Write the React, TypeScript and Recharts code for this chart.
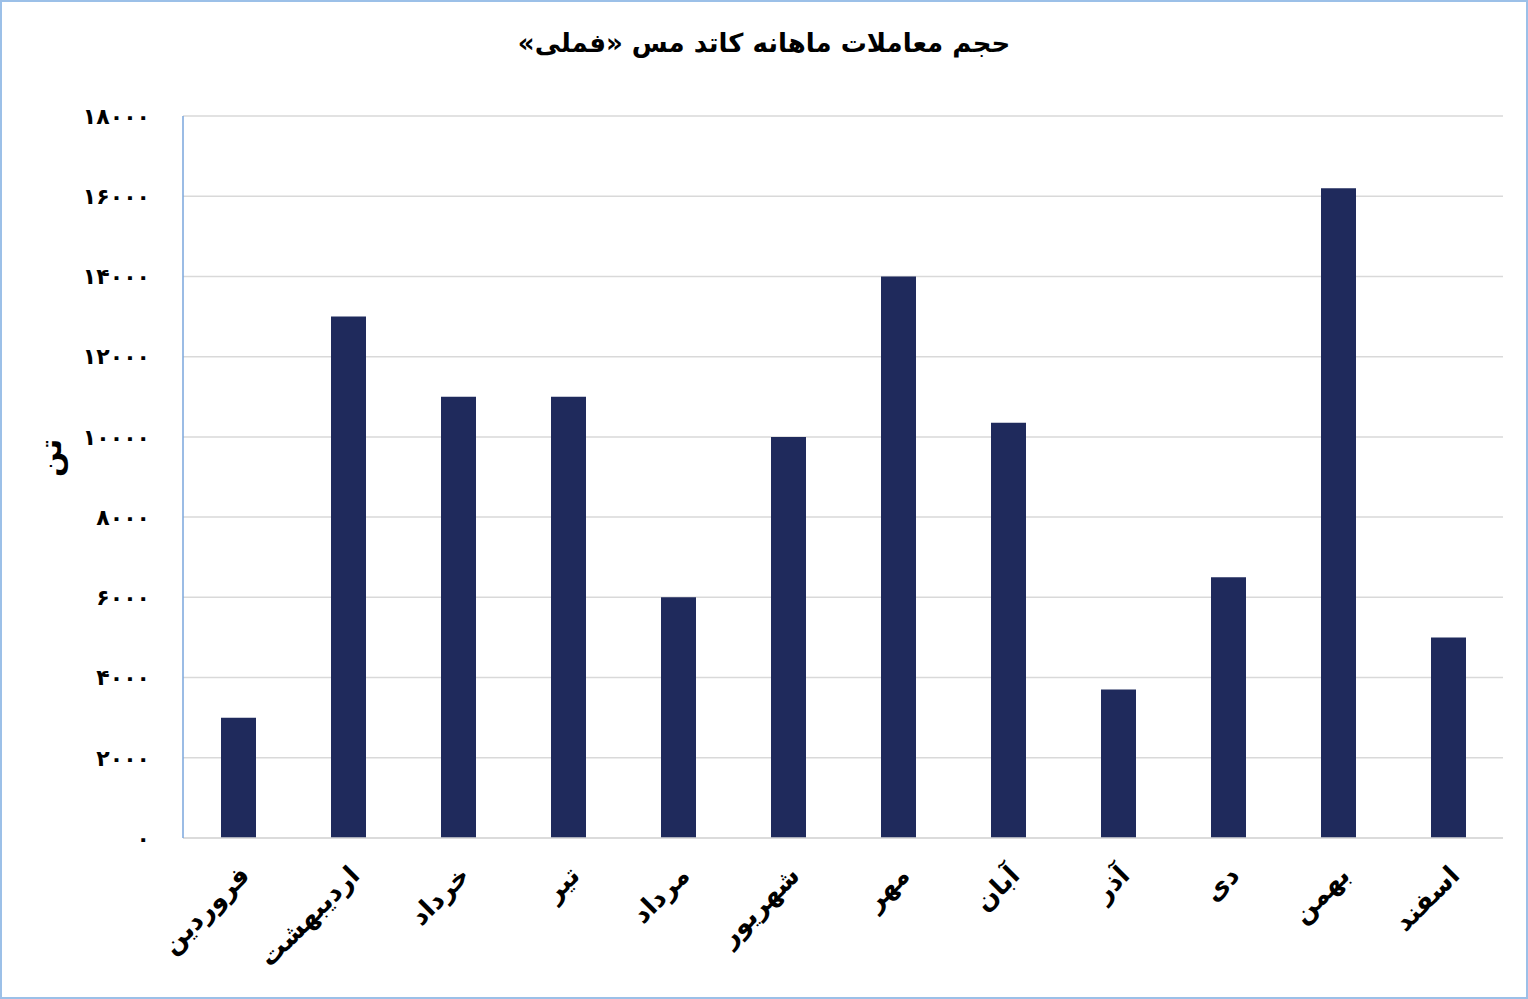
import { Bar, BarChart, CartesianGrid, XAxis, YAxis } from "recharts";

const months = ['فروردین', 'اردیبهشت', 'خرداد', 'تیر', 'مرداد', 'شهریور', 'مهر', 'آبان', 'آذر', 'دی', 'بهمن', 'اسفند'];
const volumes = [3000, 13000, 11000, 11000, 6000, 10000, 14000, 10350, 3700, 6500, 16200, 5000];
const yTicks = [0, 2000, 4000, 6000, 8000, 10000, 12000, 14000, 16000, 18000];

const title = 'حجم معاملات ماهانه کاتد مس «فملی»';
const unit = 'تن';

const FONT = '"DejaVu Sans", sans-serif';

const toPersian = (n: number) => String(n).replace(/\d/g, (d) => '۰۱۲۳۴۵۶۷۸۹'[+d]);

const App = () => {
    const data = months.map((month, i) => ({ month, volume: volumes[i] }));

    return (
        <div style={{ position: 'absolute', left: 0, top: 0, width: 1528, height: 999, background: '#fff' }}>
            <div
                dir="rtl"
                style={{
                    position: 'absolute', left: 0, top: 28, width: 1528, textAlign: 'center',
                    fontFamily: FONT, fontWeight: 'bold', fontSize: 26, color: '#000'
                }}
            >
                {title}
            </div>
            <BarChart width={1528} height={999} data={data} margin={{ top: 116, right: 25, bottom: 0, left: 0 }}>
                <CartesianGrid vertical={false} stroke="#d9d9d9" strokeWidth={1.5}/>
                <XAxis
                    dataKey="month"
                    height={161}
                    interval={0}
                    tickLine={false}
                    axisLine={{ stroke: '#d9d9d9', strokeWidth: 1.5 }}
                    angle={-45}
                    textAnchor="end"
                    tickMargin={20}
                    tick={{ fontFamily: FONT, fontWeight: 'bold', fontSize: 26, fill: '#000' }}
                />
                <YAxis
                    width={183}
                    domain={[0, 18000]}
                    ticks={yTicks}
                    interval={0}
                    tickLine={false}
                    axisLine={{ stroke: '#7aa6dc', strokeWidth: 1.5 }}
                    tickMargin={27}
                    tickFormatter={toPersian}
                    tick={{ fontFamily: FONT, fontWeight: 'bold', fontSize: 22, fill: '#000' }}
                    label={{ value: unit, angle: -90, position: 'insideLeft', offset: 50, style: { fontFamily: FONT, fontWeight: 'bold', fontSize: 30, fill: '#000' } }}
                />
                <Bar dataKey="volume" fill="#1f2a5c" barSize={35} isAnimationActive={false}/>
            </BarChart>
            <div style={{ position: 'absolute', inset: 0, border: '2px solid #9cc0e8', pointerEvents: 'none' }}/>
        </div>
    );
};

export default App;
